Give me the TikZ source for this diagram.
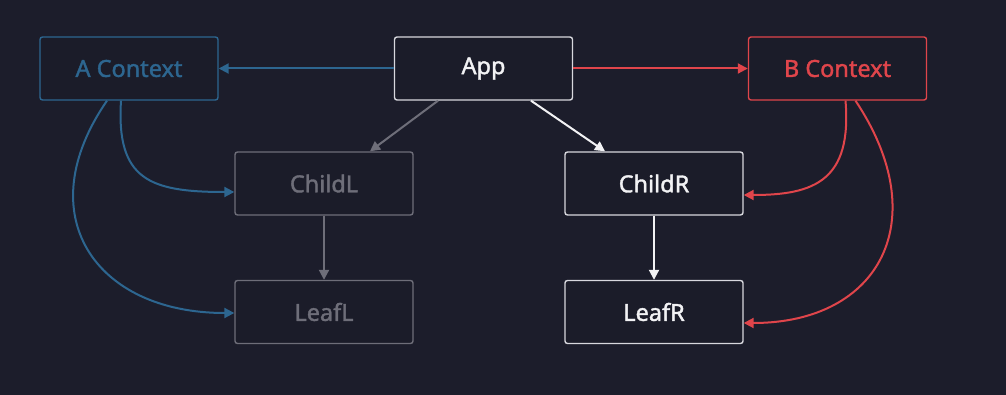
\documentclass[tikz,border=0pt]{standalone}
\usepackage{fontspec}
\setmainfont{Noto Sans}[FakeBold=1.6]
\usetikzlibrary{arrows.meta}
\definecolor{bg}{HTML}{1C1D2B}
\definecolor{boxfill}{HTML}{1B1C29}
\definecolor{ablue}{HTML}{2D6690}
\definecolor{bred}{HTML}{E0454B}
\definecolor{dgrey}{HTML}{6E6E79}
\definecolor{wht}{HTML}{F2F2F4}
\definecolor{wborder}{HTML}{D8D8DE}
\begin{document}
\begin{tikzpicture}[x=1pt,y=-1pt,
  box/.style={draw, fill=boxfill, line width=1.4pt, rounded corners=2.5pt,
    minimum width=178pt, minimum height=63pt, inner sep=0pt,
    font=\fontsize{23.5}{26}\selectfont},
  bluebox/.style={box, draw=ablue, text=ablue},
  redbox/.style={box, draw=bred, text=bred},
  greybox/.style={box, draw=dgrey, text=dgrey},
  whitebox/.style={box, draw=wborder, text=wht},
  conn/.style={line width=2pt, -{Triangle[length=10pt,width=10pt]}},
]
\fill[bg] (0,0) rectangle (1006,395);
\useasboundingbox (0,0) rectangle (1006,395);

\node[bluebox]  (actx)   at (129,68.5)  {A Context};
\node[whitebox] (app)    at (483.5,68.5){App};
\node[redbox]   (bctx)   at (837.5,68.5){B Context};
\node[greybox]  (childl) at (324,183.5) {ChildL};
\node[greybox]  (leafl)  at (324,312)   {LeafL};
\node[whitebox] (childr) at (654,183.5) {ChildR};
\node[whitebox] (leafr)  at (654,312)   {LeafR};

\draw[conn, ablue] (app.west) -- (actx.east);
\draw[conn, bred] (app.east) -- (bctx.west);
\draw[conn, dgrey] ([xshift=-45.5pt]app.south) -- ([xshift=46pt]childl.north);
\draw[conn, wht] ([xshift=47.5pt]app.south) -- ([xshift=-49pt]childr.north);
\draw[conn, dgrey] (childl.south) -- (leafl.north);
\draw[conn, wht] (childr.south) -- (leafr.north);

\coordinate (a1) at ([xshift=-8pt]actx.south);
\coordinate (a2) at ([xshift=-22pt]actx.south);
\coordinate (b1) at ([xshift=8pt]bctx.south);
\coordinate (b2) at ([xshift=18pt]bctx.south);
\draw[conn, ablue] (a1) .. controls (116,180) and (150,192) .. ([yshift=-8.5pt]childl.west);
\draw[conn, ablue] (a2) .. controls (28,215) and (95,313) .. ([yshift=-1pt]leafl.west);
\draw[conn, bred] (b1) .. controls (852,180) and (815,195) .. ([yshift=-11.5pt]childr.east);
\draw[conn, bred] (b2) .. controls (935,220) and (880,323) .. ([yshift=-11pt]leafr.east);
\end{tikzpicture}
\end{document}
